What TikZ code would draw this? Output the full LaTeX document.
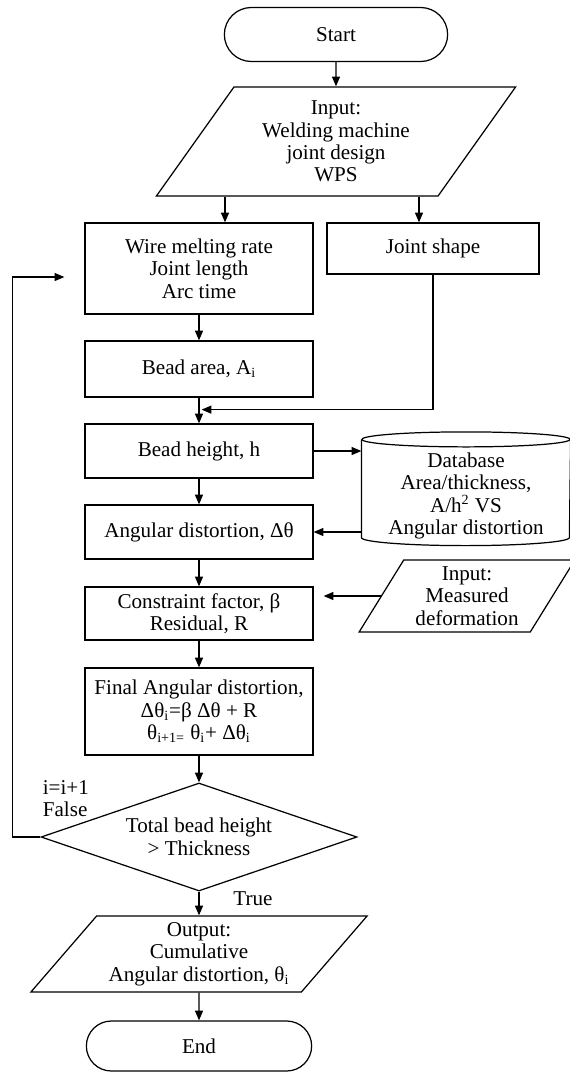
\documentclass[tikz,border=0pt]{standalone}
\usepackage{fontspec}
\setmainfont{Liberation Serif}
\usepackage{tikz}
\usetikzlibrary{shapes.geometric, shapes.misc, positioning, arrows.meta}

\begin{document}
\begin{tikzpicture}[node distance=2cm, on grid, line width=0.7pt,
    >={Triangle[length=5.5pt,width=4.5pt]},
    every node/.style={font=\fontsize{12}{12.8}\selectfont}]
        \tikzset{
            terminal/.style={rounded rectangle, draw, minimum width=4.7cm, minimum height=1.08cm},
            process/.style={rectangle, draw, align=center, minimum width=4.56cm, inner sep=2pt},
            io/.style={trapezium, trapezium stretches=true, draw, align=center, inner sep=1pt},
            decision/.style={diamond, draw, align=center, aspect=2.93, minimum width=6.32cm, minimum height=2.16cm, inner sep=0pt}
        }
        \useasboundingbox (0,0) rectangle (11.4,-21.44);

        \node[process, minimum height=1.82cm] (wire) at (3.98,-5.37) {Wire melting rate\\Joint length\\Arc time};
        \node[io, trapezium left angle=56, trapezium right angle=124, minimum width=7.2cm, minimum height=2.18cm] (input) [above right=2.54cm and 2.74cm of wire] {Input:\\Welding machine\\joint design\\WPS};
        \node[terminal] (start) [above=2.14cm of input] {Start};
        \node[process, minimum width=4.24cm, minimum height=1.02cm] (joint) [above right=0.4cm and 4.68cm of wire] {Joint shape};
        \node[process, minimum height=1.12cm] (area) [below=2.01cm of wire] {Bead area, A\textsubscript{i}};
        \node[process, minimum height=1.08cm] (bheight) [below=1.64cm of area] {Bead height, h};
        \node[process, minimum height=1.08cm] (angular) [below=1.62cm of bheight] {Angular distortion, Δθ};
        \node[process, minimum height=1.06cm] (constraint) [below=1.63cm of angular] {Constraint factor, β\\Residual, R};
        \node[process, minimum height=1.74cm] (final) [below=1.96cm of constraint] {Final Angular distortion,\\Δθ\textsubscript{i}=β Δθ + R\\θ\textsubscript{i+1=} θ\textsubscript{i}+ Δθ\textsubscript{i}};
        \node[decision] (check) [below=2.51cm of final] {Total bead height\\> Thickness};
        \node[io, trapezium left angle=48.6, trapezium right angle=131.4, minimum width=6.74cm, minimum height=1.52cm] (output) [below=2.34cm of check] {Output:\\Cumulative\\Angular distortion, θ\textsubscript{i}};
        \node[terminal, minimum width=4.74cm, minimum height=1.0cm] (stop) [below=1.84cm of output] {End};

        \node[minimum width=4.16cm, minimum height=1.94cm, align=center, inner sep=0pt] (db) [below right=0.9cm and 5.34cm of bheight] {Database\\Area/thickness,\\A/h\textsuperscript{2} VS\\Angular distortion};
        \draw ([yshift=0.15cm]db.north west) -- ([yshift=0.15cm]db.south west) arc[start angle=180, end angle=360, x radius=2.08cm, y radius=0.16cm] -- ([yshift=0.15cm]db.north east);
        \draw ([yshift=0.15cm]db.north) ellipse [x radius=2.08cm, y radius=0.15cm];
        \node[io, trapezium left angle=59, trapezium right angle=121, minimum width=4.32cm, minimum height=1.44cm] (meas) [above right=0.35cm and 5.36cm of constraint] {Input:\\Measured\\deformation};

        \node[align=left, anchor=west] (falselbl) at ([xshift=-0.08cm, yshift=0.77cm]check.west) {i=i+1\\False};
        \node (truelbl) at ([xshift=1.08cm, yshift=-0.14cm]check.south) {True};

        \coordinate (merge) at ([yshift=-0.24cm]area.south);
        \draw[->] (start) -- (start |- input.north);
        \draw[->] ([xshift=0.52cm]wire.north |- input.south) -- ([xshift=0.52cm]wire.north);
        \draw[->] ([xshift=-0.28cm]joint.north |- input.south) -- ([xshift=-0.28cm]joint.north);
        \draw[->] (wire) -- (area);
        \draw[->] (area) -- (bheight);
        \draw[->, shorten >=1.5pt] (joint.south) |- (merge);
        \draw[->] (bheight.east) -- (bheight.east -| db.west);
        \draw[->] (db.south west |- angular.east) -- (angular.east);
        \draw[->] (bheight) -- (angular);
        \draw[->] (angular) -- (constraint);
        \draw[->, shorten >=0.2cm] (meas.west) -- (meas.west -| constraint.east);
        \draw[->] (constraint) -- (final);
        \draw[->] (final) -- (check);
        \draw[->] (check) -- (check.south |- output.north);
        \draw[->] (output.south -| stop) -- (stop);
        \draw[->, shorten >=0.4cm] (check.west) -- ++(-0.56,0) |- ([yshift=-0.17cm]wire.west);
    \end{tikzpicture}
\end{document}
